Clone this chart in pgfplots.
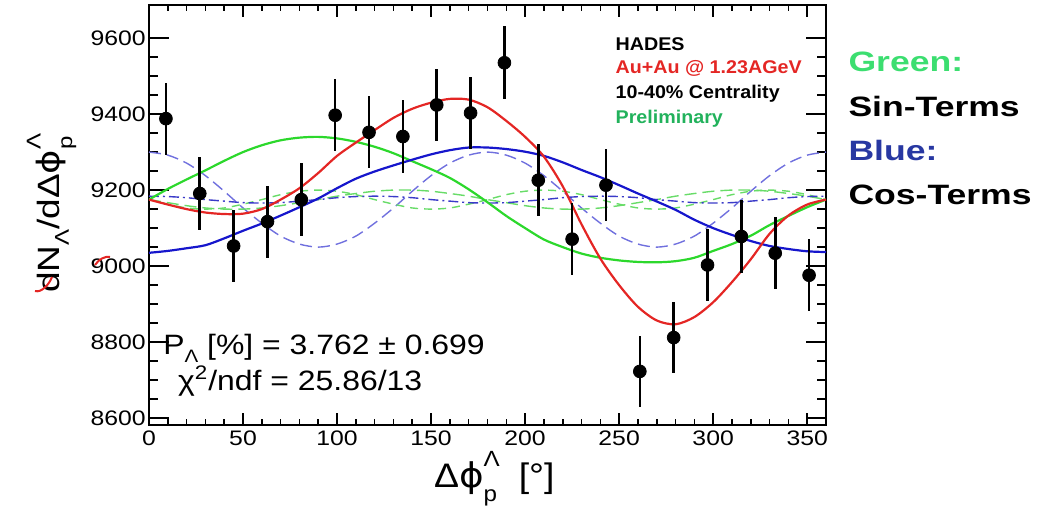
\documentclass[border=0pt]{standalone}
\usepackage{pgfplots}
\pgfplotsset{compat=1.18}
\usepackage{pgfplotstable}
\usepackage{fontspec}
\setmainfont{Liberation Sans}
\newfontfamily\symfont{DejaVu Sans}
\newcommand{\phisym}{{\symfont ϕ}}

\definecolor{fitred}{RGB}{228,38,36}
\definecolor{singreen}{RGB}{44,216,44}
\definecolor{cosblue}{RGB}{22,22,204}
\definecolor{lightblue}{RGB}{112,112,222}
\definecolor{midblue}{RGB}{58,58,200}
\definecolor{lightgreen}{RGB}{104,220,104}
\definecolor{prelimgreen}{RGB}{34,178,92}
\definecolor{labelgreen}{RGB}{60,222,112}
\definecolor{labelblue}{RGB}{40,56,162}

% measured yield per bin (x = bin centre in degrees)
\pgfplotstableread{
x    y     e
9    9388  95
27   9191  95
45   9053  95
63   9117  95
81   9175  95
99   9397  95
117  9352  95
135  9341  95
153  9424  95
171  9403  95
189  9535  96
207  9226  95
225  9071  95
243  9213  95
261  8723  94
279  8812  94
297  9003  95
315  9078  95
333  9034  95
351  8976  95
}\datatable

% full fit, sine part and cosine part
\pgfplotstableread{
x    fit   sin   cos
0    9175  9175  9035
10   9162  9203  9040
20   9150  9228  9047
30   9141  9252  9055
40   9137  9277  9073
50   9138  9300  9093
60   9150  9318  9112
70   9175  9331  9133
80   9205  9338  9155
90   9245  9340  9178
100  9290  9336  9205
110  9325  9327  9230
120  9358  9314  9249
130  9390  9297  9265
140  9414  9276  9280
150  9430  9255  9294
160  9440  9232  9305
170  9438  9202  9312
180  9418  9168  9312
190  9382  9132  9308
200  9340  9100  9301
210  9288  9070  9290
220  9210  9050  9273
230  9110  9033  9253
240  9020  9022  9234
250  8950  9015  9213
260  8893  9011  9191
270  8857  9010  9170
280  8847  9013  9148
290  8866  9022  9122
300  8905  9040  9100
310  8958  9058  9082
320  9018  9080  9066
330  9085  9108  9053
340  9133  9132  9045
350  9162  9155  9039
360  9175  9175  9037
}\fittable

% individual harmonic components
\pgfplotstableread{
x    ctwo  stwo  sthree  cthree
0    9300  9175  9175    9184
10   9292  9167  9163    9183
20   9271  9159  9153    9180
30   9238  9153  9150    9175
40   9197  9150  9153    9171
50   9153  9150  9163    9167
60   9113  9153  9175    9166
70   9079  9159  9188    9167
80   9058  9167  9197    9171
90   9050  9175  9200    9175
100  9058  9184  9197    9180
110  9079  9191  9188    9183
120  9113  9197  9175    9184
130  9153  9200  9163    9183
140  9197  9200  9153    9180
150  9238  9197  9150    9175
160  9271  9191  9153    9171
170  9292  9184  9163    9167
180  9300  9175  9175    9166
190  9292  9167  9188    9167
200  9271  9159  9197    9171
210  9238  9153  9200    9175
220  9197  9150  9197    9180
230  9153  9150  9188    9183
240  9113  9153  9175    9184
250  9079  9159  9163    9183
260  9058  9167  9153    9180
270  9050  9175  9150    9175
280  9058  9184  9153    9171
290  9079  9191  9163    9167
300  9113  9197  9175    9166
310  9153  9200  9188    9167
320  9197  9200  9197    9171
330  9238  9197  9200    9175
340  9271  9191  9197    9180
350  9292  9184  9188    9183
360  9300  9175  9175    9184
}\comptable

\begin{document}
\begin{tikzpicture}
\path[use as bounding box] (-74.5pt,-50pt) rectangle (451pt,212.5pt);
\begin{axis}[
  at={(0,0)}, anchor=south west,
  scale only axis, width=338.5pt, height=210pt,
  xmin=0, xmax=360, ymin=8582, ymax=9687,
  xtick={0,50,...,350}, ytick={8600,8800,...,9600},
  minor x tick num=4, minor y tick num=3,
  tick align=inside,
  axis line style={line width=1pt},
  every tick/.style={black, line width=0.8pt},
  xtick style={/pgfplots/major tick length=6pt, /pgfplots/minor tick length=3pt},
  ytick style={/pgfplots/major tick length=10pt, /pgfplots/minor tick length=4.5pt},
  /pgf/number format/assume math mode=true,
  /pgf/number format/1000 sep={},
  tick label style={font=\fontsize{10.5}{12}\selectfont, xscale=1.18},
  yticklabel style={inner sep=1.2pt},
  xticklabel style={inner sep=2.5pt},
  every axis y label/.style={at={(axis description cs:-0.144,0.501)}, rotate=90, anchor=center},
  every axis x label/.style={at={(axis description cs:0.510,-0.128)}, anchor=center},
  ylabel={\fontsize{15.4}{18}\selectfont\scalebox{1.2}[1]{dN\raisebox{-0.3em}{\fontsize{10}{12}\selectfont Λ}/dΔ\phisym\rlap{\raisebox{0.62em}{\fontsize{10}{12}\selectfont Λ}}\raisebox{-0.4em}{\fontsize{10}{12}\selectfont p}}},
  xlabel={\fontsize{17}{20}\selectfont\scalebox{1.1}[1]{Δ\phisym\rlap{\raisebox{0.62em}{\fontsize{11}{12}\selectfont Λ}}\raisebox{-0.4em}{\fontsize{11}{12}\selectfont p}\hspace{0.3em} [°]}},
  clip mode=individual,
]
% harmonic components
\addplot[lightblue, line width=0.7pt, dash pattern=on 6pt off 3pt, smooth] table[x=x, y=ctwo] {\comptable};
\addplot[lightgreen, line width=0.7pt, dash pattern=on 6pt off 3pt, smooth] table[x=x, y=stwo] {\comptable};
\addplot[lightgreen, line width=0.7pt, dash pattern=on 4pt off 3pt, smooth] table[x=x, y=sthree] {\comptable};
\addplot[midblue, line width=0.7pt, dash pattern=on 5pt off 2pt on 1pt off 2pt, smooth] table[x=x, y=cthree] {\comptable};
% sine and cosine sums, full fit
\addplot[singreen, line width=1.1pt, smooth] table[x=x, y=sin] {\fittable};
\addplot[cosblue, line width=1.1pt, smooth] table[x=x, y=cos] {\fittable};
\addplot[fitred, line width=1.1pt, smooth] table[x=x, y=fit] {\fittable};
% data
\addplot[black, only marks, mark=*, mark size=3.2pt,
  error bars/.cd, y dir=both, y explicit, error mark=none,
  error bar style={line width=1.3pt, black}]
  table[x=x, y=y, y error=e] {\datatable};

\node[anchor=west, font=\fontsize{9.2}{10}\selectfont\bfseries, xscale=1.07, inner sep=0pt] at (axis cs:247.9,9584) {HADES};
\node[anchor=west, font=\fontsize{9.2}{10}\selectfont\bfseries, text=fitred, xscale=1.07, inner sep=0pt] at (axis cs:247.9,9521) {Au+Au @ 1.23AGeV};
\node[anchor=west, font=\fontsize{9.2}{10}\selectfont\bfseries, xscale=1.07, inner sep=0pt] at (axis cs:247.9,9453) {10-40\% Centrality};
\node[anchor=west, font=\fontsize{9.2}{10}\selectfont\bfseries, text=prelimgreen, xscale=1.07, inner sep=0pt] at (axis cs:247.9,9387) {Preliminary};

\node[anchor=west, font=\fontsize{14}{16}\selectfont, xscale=1.14, inner sep=0pt] at (axis cs:7.4,8784) {P\raisebox{-0.3em}{\fontsize{9}{10}\selectfont Λ} [\%] = 3.762 ± 0.699};
\node[anchor=west, font=\fontsize{14}{16}\selectfont, xscale=1.14, inner sep=0pt] at (axis cs:15.2,8698) {χ\textsuperscript{2}/ndf = 25.86/13};
\end{axis}

% red pen strokes on the left margin
\draw[fitred, line width=1pt] (-27pt,80pt) .. controls (-25pt,83pt) and (-22pt,84.5pt) .. (-19.5pt,84pt);
\draw[fitred, line width=1pt] (-57pt,67pt) .. controls (-54pt,66pt) and (-50pt,70pt) .. (-48.5pt,74pt);

% colour key
\node[anchor=west, font=\fontsize{14}{16}\selectfont\bfseries, text=labelgreen, xscale=1.27, inner sep=0pt] at (349.5pt,181.5pt) {Green:};
\node[anchor=west, font=\fontsize{14}{16}\selectfont\bfseries, xscale=1.27, inner sep=0pt] at (349.5pt,159.5pt) {Sin-Terms};
\node[anchor=west, font=\fontsize{14}{16}\selectfont\bfseries, text=labelblue, xscale=1.27, inner sep=0pt] at (349.5pt,137.5pt) {Blue:};
\node[anchor=west, font=\fontsize{14}{16}\selectfont\bfseries, xscale=1.27, inner sep=0pt] at (349.5pt,115pt) {Cos-Terms};
\end{tikzpicture}
\end{document}
